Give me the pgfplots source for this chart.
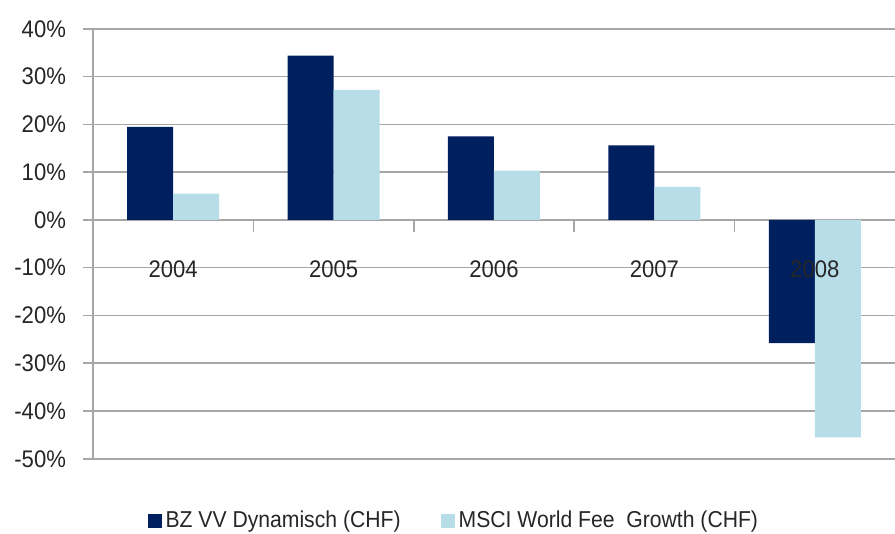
\documentclass[border=0pt]{standalone}
\usepackage{pgfplots}
\pgfplotsset{compat=1.18}
\usepackage{fontspec}
\setmainfont{Liberation Sans}[FakeStretch=0.92]
\definecolor{navy}{HTML}{001F5F}
\definecolor{lblue}{HTML}{B7DDE8}
\definecolor{gridgray}{HTML}{A6A6A6}
\definecolor{txt}{HTML}{262626}
\begin{document}
\begin{tikzpicture}
\begin{axis}[
  set layers,
  scale only axis, width=401pt, height=215pt,
  at={(0,0)}, anchor=south west,
  xmin=-0.5, xmax=4.5, ymin=-50, ymax=40,
  axis x line=middle, axis y line=left,
  axis line style={gridgray, line width=0.8pt, -},
  ybar=0pt, bar width=23pt,
  ymajorgrids, grid style={gridgray, line width=0.8pt},
  xtick={0,1,2,3,4},
  xticklabels={2004,2005,2006,2007,2008},
  minor xtick={0.5,1.5,2.5,3.5},
  xtick style={draw=none},
  minor x tick style={draw=gridgray, line width=0.8pt},
  minor tick length=6pt,
  xtick align=outside,
  ytick={-50,-40,...,40},
  yticklabels={-50\%,-40\%,-30\%,-20\%,-10\%,0\%,10\%,20\%,30\%,40\%},
  ytick align=outside, major tick length=5pt,
  ytick style={gridgray, line width=0.8pt},
  yticklabel style={xshift=-5pt},
  ticklabel style={font=\fontsize{12}{14}\selectfont, text=txt},
  xticklabel style={/pgfplots/on layer=axis foreground, yshift=-12pt},
  legend style={at={(0.06,-0.145)}, anchor=west, draw=none, fill=none,
    legend columns=2, font=\fontsize{11.5}{14}\selectfont, text=txt,
    /tikz/every even column/.append style={column sep=18pt}},
  legend image code/.code={\fill[#1] (0pt,-3.5pt) rectangle (7pt,3.5pt);},
]
\addplot[fill=navy, draw=none] coordinates {(0,19.5) (1,34.4) (2,17.5) (3,15.6) (4,-25.8)};
\addplot[fill=lblue, draw=none] coordinates {(0,5.5) (1,27.2) (2,10.3) (3,6.9) (4,-45.5)};
\legend{BZ VV Dynamisch (CHF), MSCI World Fee\ \ Growth (CHF)}
\end{axis}
\pgfresetboundingbox
\useasboundingbox (-46.5pt,-37.6pt) rectangle (401pt,229.4pt);
\end{tikzpicture}
\end{document}
